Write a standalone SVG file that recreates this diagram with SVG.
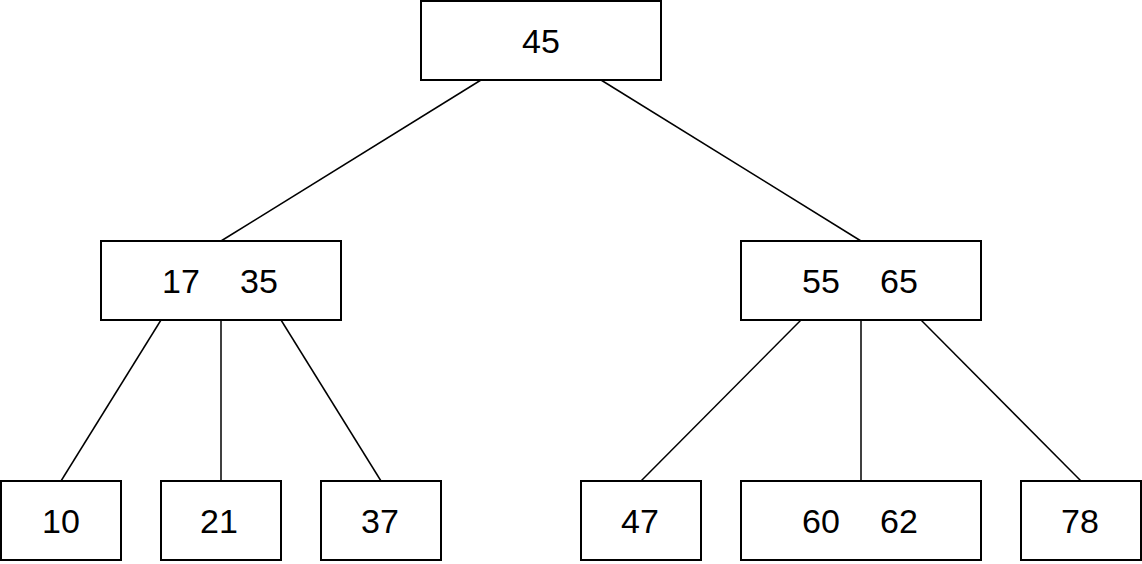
<svg xmlns="http://www.w3.org/2000/svg" width="1142" height="564" viewBox="0 0 1142 564">
<style>
rect{fill:#fff;stroke:#000;stroke-width:2}
line{stroke:#000;stroke-width:1.5}
text{font-family:"Liberation Sans",Arial,sans-serif;font-size:34px;text-anchor:middle;fill:#000}
</style>
<rect x="0" y="0" width="1142" height="564" style="stroke:none"/>
<g id="connectors">
<line x1="481" y1="80" x2="221" y2="241"/>
<line x1="601" y1="80" x2="861" y2="241"/>
<line x1="161" y1="320" x2="61" y2="481"/>
<line x1="221" y1="320" x2="221" y2="481"/>
<line x1="281" y1="320" x2="381" y2="481"/>
<line x1="801" y1="320" x2="641" y2="481"/>
<line x1="861" y1="320" x2="861" y2="481"/>
<line x1="921" y1="320" x2="1081" y2="481"/>
</g>
<g id="n45"><rect x="421" y="1" width="240" height="79"/><text x="541" y="53">45</text></g>
<g id="n1735"><rect x="101" y="241" width="240" height="79"/><text x="181" y="293">17</text><text x="259" y="293">35</text></g>
<g id="n5565"><rect x="741" y="241" width="240" height="79"/><text x="821" y="293">55</text><text x="899" y="293">65</text></g>
<g id="n10"><rect x="1" y="481" width="120" height="79"/><text x="61" y="533">10</text></g>
<g id="n21"><rect x="161" y="481" width="120" height="79"/><text x="219" y="533">21</text></g>
<g id="n37"><rect x="321" y="481" width="120" height="79"/><text x="380" y="533">37</text></g>
<g id="n47"><rect x="581" y="481" width="120" height="79"/><text x="640" y="533">47</text></g>
<g id="n6062"><rect x="741" y="481" width="240" height="79"/><text x="821" y="533">60</text><text x="899" y="533">62</text></g>
<g id="n78"><rect x="1021" y="481" width="120" height="79"/><text x="1080" y="533">78</text></g>
</svg>
